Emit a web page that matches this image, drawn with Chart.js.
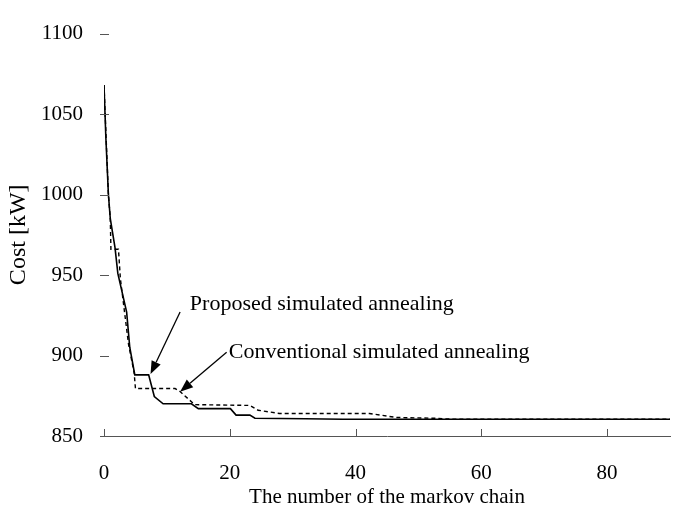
<!DOCTYPE html>
<html>
<head>
<meta charset="utf-8">
<script src="https://cdn.jsdelivr.net/npm/chart.js@4"></script>
<style>
  html, body { margin: 0; padding: 0; background: #fff; }
  #wrap { width: 673px; height: 519px; position: relative; }
</style>
</head>
<body>
<div id="wrap"><canvas id="myChart"></canvas></div>
<script>
// proposed simulated annealing (solid)
const proposedX = [0, 0.3, 0.7, 1, 1.75, 2.2, 3.6, 4.1, 4.9, 7.1, 8, 9.4, 13.9, 15, 20.1, 21, 23.2, 24, 32, 38, 90];
const proposedY = [1068, 1035, 1000, 985, 967, 951, 927, 905, 888, 888, 874.5, 870, 870, 867, 867, 863, 863, 861, 860.7, 860.4, 860.4];

// conventional simulated annealing (dashed)
const conventionalX = [0, 0.7, 1.0, 1.1, 2.3, 2.6, 3.9, 4.8, 5, 11.3, 12, 14.4, 23.2, 24.5, 27.9, 42.2, 46.5, 52.8, 55, 90];
const conventionalY = [1068, 1000, 985, 966, 966, 948, 907, 889, 879.5, 879.5, 878, 869.5, 869, 866, 864, 864, 861.5, 861, 860.5, 860.5];

const xTicks = [0, 20, 40, 60, 80];
const yTicks = [850, 900, 950, 1000, 1050, 1100];

// annotation anchors in data units: text baseline pos, arrow tail, arrow tip
const notes = [
  { text: "Proposed simulated annealing", tx: 13.65, ty: 928.3, fx: 12.1, fy: 927, ax: 7.4, ay: 888.5 },
  { text: "Conventional simulated annealing", tx: 19.85, ty: 898.4, fx: 19.5, fy: 902, ax: 12.1, ay: 877.5 }
];

function toPoints(xs, ys) {
  let pts = [];
  for (let i = 0; i < xs.length; i++) {
    pts.push({ x: xs[i], y: ys[i] });
  }
  return pts;
}

const serif = "'Liberation Serif', 'DejaVu Serif', serif";

// tick marks: x inside (upwards), y crossing the axis; plus the arrows
const tickMarks = {
  id: "tickMarks",
  afterDraw(chart) {
    const ctx = chart.ctx;
    const xs = chart.scales.x;
    const ys = chart.scales.y;
    const area = chart.chartArea;
    ctx.save();
    ctx.strokeStyle = "#555";
    ctx.lineWidth = 1;
    ctx.beginPath();
    xTicks.forEach(v => {
      const px = Math.round(xs.getPixelForValue(v)) + 0.5;
      ctx.moveTo(px, area.bottom);
      ctx.lineTo(px, area.bottom - 7);
    });
    yTicks.forEach(v => {
      const py = Math.round(ys.getPixelForValue(v)) + 0.5;
      ctx.moveTo(area.left - 4, py);
      ctx.lineTo(area.left + 5, py);
    });
    ctx.stroke();

    // annotations
    ctx.fillStyle = "#000";
    ctx.strokeStyle = "#000";
    ctx.font = "22px " + serif;
    ctx.textBaseline = "alphabetic";
    ctx.textAlign = "left";
    notes.forEach(n => {
      ctx.fillText(n.text, xs.getPixelForValue(n.tx), ys.getPixelForValue(n.ty));
      const x1 = xs.getPixelForValue(n.fx), y1 = ys.getPixelForValue(n.fy);
      const x2 = xs.getPixelForValue(n.ax), y2 = ys.getPixelForValue(n.ay);
      const ang = Math.atan2(y2 - y1, x2 - x1);
      const hl = 13, hw = 5;
      const bx = x2 - hl * Math.cos(ang), by = y2 - hl * Math.sin(ang);
      ctx.lineWidth = 1.3;
      ctx.beginPath();
      ctx.moveTo(x1, y1);
      ctx.lineTo(bx, by);
      ctx.stroke();
      ctx.beginPath();
      ctx.moveTo(x2, y2);
      ctx.lineTo(bx + hw * Math.sin(ang), by - hw * Math.cos(ang));
      ctx.lineTo(bx - hw * Math.sin(ang), by + hw * Math.cos(ang));
      ctx.closePath();
      ctx.fill();
    });
    ctx.restore();
  }
};

const data = {
  datasets: [
    {
      label: "Proposed simulated annealing",
      data: toPoints(proposedX, proposedY),
      borderColor: "#000",
      borderWidth: 1.6,
      pointRadius: 0,
      tension: 0
    },
    {
      label: "Conventional simulated annealing",
      data: toPoints(conventionalX, conventionalY),
      borderColor: "#000",
      borderWidth: 1.4,
      borderDash: [4, 3],
      pointRadius: 0,
      tension: 0
    }
  ]
};

const config = {
  type: "line",
  data,
  options: {
    responsive: true,
    maintainAspectRatio: false,
    animation: false,
    layout: { padding: { top: 18, right: 3, left: 0, bottom: 0 } },
    plugins: {
      legend: { display: false },
      tooltip: { enabled: false }
    },
    scales: {
      x: {
        type: "linear",
        min: 0,
        max: 90,
        afterBuildTicks(scale) {
          scale.ticks = xTicks.map(v => ({ value: v }));
        },
        grid: { display: false, drawTicks: false },
        border: { display: true, color: "#555", width: 1 },
        ticks: {
          color: "#000",
          padding: 25,
          font: { family: serif, size: 21 },
          callback: v => String(v)
        },
        title: {
          display: true,
          text: "The number of the markov chain",
          color: "#000",
          padding: { top: 0, bottom: 9 },
          font: { family: serif, size: 21 }
        },
        afterFit(scale) { scale.height = 83; }
      },
      y: {
        min: 850,
        max: 1100,
        afterBuildTicks(scale) {
          scale.ticks = yTicks.map(v => ({ value: v }));
        },
        grid: { display: false, drawTicks: false },
        border: { display: false },
        ticks: {
          color: "#000",
          padding: 21,
          font: { family: serif, size: 21 },
          callback: v => String(v)
        },
        title: {
          display: true,
          text: "Cost [kW]",
          color: "#000",
          padding: { top: 4, bottom: 0 },
          font: { family: serif, size: 24 }
        },
        afterFit(scale) { scale.width = 104; }
      }
    }
  },
  plugins: [tickMarks]
};

const myChart = new Chart(document.getElementById("myChart"), config);
</script>
</body>
</html>
